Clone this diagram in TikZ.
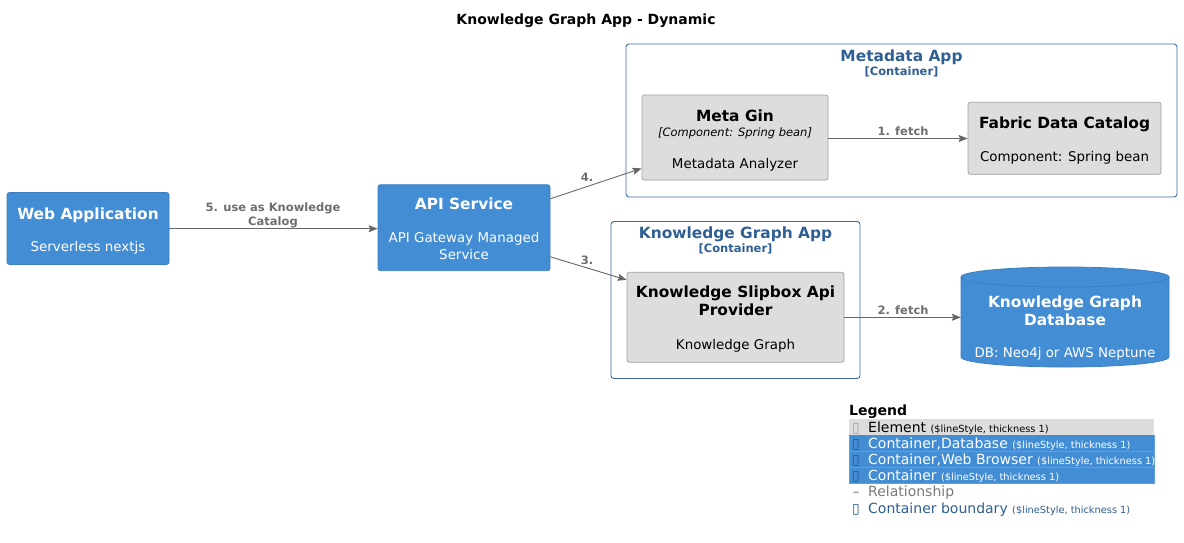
\documentclass[tikz,border=0pt]{standalone}
\usepackage{fontspec}
\setmainfont{DejaVu Sans}
\usetikzlibrary{arrows.meta}
\definecolor{cfill}{HTML}{438DD5}
\definecolor{cline}{HTML}{3C7FC0}
\definecolor{gfill}{HTML}{DDDDDD}
\definecolor{gline}{HTML}{A2A2A2}
\definecolor{bline}{HTML}{3F6A9C}
\definecolor{btext}{HTML}{2F5F93}
\definecolor{rel}{HTML}{666666}
\definecolor{reltext}{HTML}{6E6E6E}
\definecolor{lgrel}{HTML}{7A7A7A}
\definecolor{sepline}{HTML}{5E9FDD}
\begin{document}
\begin{tikzpicture}[x=1pt,y=-1pt,
  container/.style={draw=cline, fill=cfill, rounded corners=2.5pt, line width=0.8pt, inner sep=0pt},
  component/.style={draw=gline, fill=gfill, rounded corners=2.5pt, line width=0.8pt, inner sep=0pt},
  boundary/.style={draw=bline, rounded corners=3pt, line width=0.9pt, inner sep=0pt},
  ttl/.style={font=\fontsize{15.4}{18}\selectfont\bfseries, anchor=base, inner sep=0pt},
  dsc/.style={font=\fontsize{13.4}{16}\selectfont, anchor=base, inner sep=0pt},
  ster/.style={font=\fontsize{11.5}{14}\selectfont\itshape, anchor=base, inner sep=0pt},
  btitle/.style={font=\fontsize{15.4}{18}\selectfont\bfseries, text=btext, anchor=base, inner sep=0pt},
  bster/.style={font=\fontsize{11.5}{14}\selectfont\bfseries, text=btext, anchor=base, inner sep=0pt},
  rlab/.style={font=\fontsize{11.5}{14}\selectfont\bfseries, text=reltext, anchor=base, inner sep=0pt},
  relarrow/.style={draw=rel, line width=0.9pt, -{Stealth[length=9pt,width=7pt,inset=1.5pt]}},
  lgtext/.style={font=\fontsize{14}{16}\selectfont, anchor=base west, inner sep=0pt},
  lgicon/.style={font=\fontsize{14}{16}\selectfont, anchor=base, inner sep=0pt}
]
\useasboundingbox (0,0) rectangle (1184,542);
\fill[white] (0,0) rectangle (1184,542);

% title
\node[font=\fontsize{14}{16}\selectfont\bfseries, anchor=base, inner sep=0pt] (title) at (586,24.3) {Knowledge Graph App - Dynamic};

% boundaries
\node[boundary, minimum width=551pt, minimum height=153pt] (metab) at (901.5,120.5) {};
\node[btitle] (metabt) at (901.5,61) {Metadata App};
\node[bster] (metabs) at (901.5,75.5) {[Container]};

\node[boundary, minimum width=249pt, minimum height=157pt] (kgb) at (735.5,300) {};
\node[btitle] (kgbt) at (735.5,238.3) {Knowledge Graph App};
\node[bster] (kgbs) at (735.5,252.7) {[Container]};

% components
\node[component, minimum width=186pt, minimum height=85pt] (metagin) at (735,137.5) {};
\node[ttl] (metagint) at (735,121) {Meta Gin};
\node[ster] (metagins) at (735,136) {[Component: Spring bean]};
\node[dsc] (metagind) at (735,168.3) {Metadata Analyzer};

\node[component, minimum width=193pt, minimum height=72pt] (fabric) at (1064.5,138.3) {};
\node[ttl] (fabrict) at (1064.5,128.3) {Fabric Data Catalog};
\node[dsc] (fabricd) at (1064.5,161.7) {Component: Spring bean};

\node[component, minimum width=217pt, minimum height=90pt] (slip) at (735.5,317.3) {};
\node[ttl] (slipt1) at (735.5,297) {Knowledge Slipbox Api};
\node[ttl] (slipt2) at (735.5,315.7) {Provider};
\node[dsc] (slipd) at (735.5,349) {Knowledge Graph};

% containers
\node[container, minimum width=162pt, minimum height=72pt] (web) at (88,228.5) {};
\node[ttl, text=white] (webt) at (88,219) {Web Application};
\node[dsc, text=white] (webd) at (88,251.7) {Serverless nextjs};

\node[container, minimum width=172pt, minimum height=86pt] (api) at (464,227.7) {};
\node[ttl, text=white] (apit) at (464,209.3) {API Service};
\node[dsc, text=white] (apid1) at (464,242.7) {API Gateway Managed};
\node[dsc, text=white] (apid2) at (464,259) {Service};

% database cylinder
\filldraw[fill=cfill, draw=cline, line width=0.8pt]
  (961,277) -- (961,357) arc[start angle=180, end angle=0, x radius=104, y radius=10]
  -- (1169,277) arc[start angle=0, end angle=-180, x radius=104, y radius=10] -- cycle;
\draw[cline, line width=0.8pt] (961,277) arc[start angle=180, end angle=0, x radius=104, y radius=10];
\node[minimum width=208pt, minimum height=100pt, inner sep=0pt] (db) at (1065,317.3) {};
\node[ttl, text=white] (dbt1) at (1065,307.3) {Knowledge Graph};
\node[ttl, text=white] (dbt2) at (1065,325) {Database};
\node[dsc, text=white] (dbd) at (1065,357.7) {DB: Neo4j or AWS Neptune};

% relationships
\draw[relarrow] (metagin.east |- 0,138.5) -- (fabric.west |- 0,138.5);
\node[rlab] (l1) at (903,135) {1. fetch};

\draw[relarrow] (slip.east |- 0,317.3) -- (db.west |- 0,317.3);
\node[rlab] (l2) at (903,314) {2. fetch};

\draw[relarrow] ([yshift=-14.5pt]api.north east) -- ([yshift=12pt]metagin.south west);
\node[rlab] (l4) at (587,181.7) {4.};

\draw[relarrow] ([yshift=14.3pt]api.south east) -- ([yshift=-8pt]slip.north west);
\node[rlab] (l3) at (587,264) {3.};

\draw[relarrow] (web.east |- 0,228.7) -- (api.west |- 0,228.7);
\node[rlab] (l5a) at (273,211) {5. use as Knowledge};
\node[rlab] (l5b) at (273,225) {Catalog};

% legend
\node[font=\fontsize{14}{16}\selectfont\bfseries, anchor=base west, inner sep=0pt] (lgt) at (849,415) {Legend};
\fill[gfill] (849,418.5) rectangle (1154,435);
\filldraw[fill=cfill, draw=sepline, line width=0.5pt] (849,435) rectangle (1154,451);
\filldraw[fill=cfill, draw=sepline, line width=0.5pt] (849,451) rectangle (1154,467.3);
\filldraw[fill=cfill, draw=sepline, line width=0.5pt] (849,467.3) rectangle (1154,483.5);
\fill[cfill] (849.3,435.3) rectangle (1153.7,436);

\node[lgicon, text=gline] (li1) at (856,432.3) {▯};
\node[lgtext] (lg1) at (868,432.3) {Element {\fontsize{9.8}{11}\selectfont (\$lineStyle, thickness 1)}};
\node[lgicon, text=cline!70!black] (li2) at (856,448.3) {▯};
\node[lgtext, text=white] (lg2) at (868,448.3) {Container,Database {\fontsize{9.8}{11}\selectfont (\$lineStyle, thickness 1)}};
\node[lgicon, text=cline!70!black] (li3) at (856,464.3) {▯};
\node[lgtext, text=white] (lg3) at (868,464.3) {Container,Web Browser {\fontsize{9.8}{11}\selectfont (\$lineStyle, thickness 1)}};
\node[lgicon, text=cline!70!black] (li4) at (856,480.3) {▯};
\node[lgtext, text=white] (lg4) at (868,480.3) {Container {\fontsize{9.8}{11}\selectfont (\$lineStyle, thickness 1)}};
\node[lgicon, text=lgrel] (li5) at (856,496.7) {–};
\node[lgtext, text=lgrel] (lg5) at (868,496.7) {Relationship};
\node[lgicon, text=btext] (li6) at (856,513.3) {▯};
\node[lgtext, text=btext] (lg6) at (868,513.3) {Container boundary {\fontsize{9.8}{11}\selectfont (\$lineStyle, thickness 1)}};
\end{tikzpicture}
\end{document}
